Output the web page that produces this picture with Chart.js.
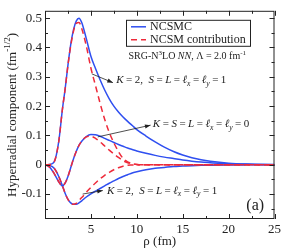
<!DOCTYPE html>
<html>
<head>
<meta charset="utf-8">
<script src="https://cdn.jsdelivr.net/npm/chart.js@4"></script>
<style>
  body { margin: 0; background: #fff; }
  canvas { display: block; }
</style>
</head>
<body>
<canvas id="chart" width="284" height="249"></canvas>
<script>
// hyperradius grid (fm)
const rho = [0, 0.5, 1, 1.5, 1.9, 2.2, 2.5, 2.8, 3.1, 3.4, 3.7, 4, 4.5, 5, 5.5, 6, 6.5, 7, 7.5,
    8, 8.5, 9, 9.5, 10, 11, 12, 13, 14, 15, 16, 17, 18, 20, 22, 25];

// K=2, S=L=lx=ly=1 (upper)
const ncsmcK2a = [0, 0.001, 0.01, 0.08, 0.19, 0.26, 0.34, 0.41, 0.46, 0.49, 0.5, 0.485, 0.43, 0.37,
    0.328, 0.29, 0.255, 0.225, 0.2, 0.18, 0.163, 0.148, 0.134, 0.12, 0.098, 0.078, 0.06, 0.045,
    0.033, 0.024, 0.017, 0.012, 0.0055, 0.0025, 0.0005];
const ncsmK2a = [0, 0.001, 0.01, 0.08, 0.19, 0.26, 0.34, 0.405, 0.455, 0.482, 0.485, 0.465, 0.405,
    0.33, 0.27, 0.21, 0.155, 0.11, 0.075, 0.045, 0.022, 0.01, 0.004, 0.001, 0, 0, 0, 0, 0, 0, 0, 0,
    0, 0, 0];

// K=S=L=lx=ly=0
const ncsmcK0 = [0, -0.008, -0.03, -0.058, -0.072, -0.062, -0.04, -0.01, 0.02, 0.045, 0.066, 0.08,
    0.096, 0.103, 0.102, 0.097, 0.09, 0.083, 0.076, 0.069, 0.063, 0.057, 0.052, 0.047, 0.039,
    0.032, 0.026, 0.021, 0.016, 0.012, 0.009, 0.007, 0.0035, 0.0015, 0.0003];
const ncsmK0 = [0, -0.008, -0.03, -0.058, -0.072, -0.062, -0.04, -0.01, 0.02, 0.045, 0.066, 0.08,
    0.095, 0.097, 0.09, 0.078, 0.064, 0.05, 0.037, 0.025, 0.014, 0.007, 0.003, 0.001, 0, 0, 0, 0,
    0, 0, 0, 0, 0, 0, 0];

// K=2, S=L=lx=ly=1 (lower)
const ncsmcK2b = [0, -0.002, -0.012, -0.04, -0.072, -0.098, -0.118, -0.13, -0.135, -0.135, -0.13,
    -0.123, -0.11, -0.099, -0.09, -0.081, -0.072, -0.063, -0.055, -0.047, -0.04, -0.034, -0.028,
    -0.024, -0.017, -0.012, -0.009, -0.006, -0.0045, -0.003, -0.002, -0.0015, -0.0008, -0.0004, 0];
const ncsmK2b = [0, -0.002, -0.012, -0.04, -0.072, -0.098, -0.118, -0.13, -0.135, -0.132, -0.122,
    -0.112, -0.094, -0.077, -0.062, -0.048, -0.036, -0.026, -0.017, -0.01, -0.005, -0.002, -0.001,
    0, 0, 0, 0, 0, 0, 0, 0, 0, 0, 0, 0];

const xTicks = [5, 10, 15, 20, 25];
const yTicks = [-0.1, 0, 0.1, 0.2, 0.3, 0.4, 0.5];
const xMinor = [2.5, 7.5, 12.5, 17.5, 22.5];
const yMinor = [-0.15, -0.05, 0.05, 0.15, 0.25, 0.35, 0.45];

const BLUE = '#2f4ff0';
const RED = '#ee2a3a';
const SERIF = '"Liberation Serif", "Times New Roman", serif';

function pts(ys) {
    return rho.map((r, i) => ({ x: r, y: ys[i] }));
}

function series(label, ys, color, dashed) {
    return {
        label: label,
        data: pts(ys),
        borderColor: color,
        borderWidth: 1.5,
        borderDash: dashed ? [6, 4] : [],
        pointRadius: 0,
        fill: false,
        cubicInterpolationMode: 'monotone',
    };
}

const it = t => ({ t: t, i: true });
const tx = t => ({ t: t });
const sb = t => ({ t: t, i: true, s: 'sub' });
const sp = t => ({ t: t, s: 'sup' });

const labelK2 = [it('K'), tx('='), tx('2,'), tx('  '), it('S'), tx('='), it('L'), tx('='),
    it('ℓ'), sb('x'), tx('='), it('ℓ'), sb('y'), tx('='), tx('1')];
const labelK0 = [it('K'), tx('='), it('S'), tx('='), it('L'), tx('='), it('ℓ'), sb('x'), tx('='),
    it('ℓ'), sb('y'), tx('='), tx('0')];
const labelSrg = [tx('SRG-N'), sp('3'), tx('LO '), it('NN'), tx(', Λ = 2.0 fm'), sp('-1')];
const labelY = [tx('Hyperradial component (fm'), sp('-1/2'), tx(')')];

function richText(ctx, x, y, parts, size, measureOnly) {
    let start = x;
    for (const p of parts) {
        const fs = p.s ? size * 0.7 : size;
        ctx.font = (p.i ? 'italic ' : '') + fs + 'px ' + SERIF;
        const dy = p.s === 'sub' ? size * 0.28 : p.s === 'sup' ? -size * 0.4 : 0;
        const pad = (p.t === '=' && p.i === undefined && parts !== labelSrg) ? 2.5 : 0;
        x += pad;
        if (!measureOnly) ctx.fillText(p.t, x, y + dy);
        x += ctx.measureText(p.t).width + pad;
    }
    return x - start;
}

function arrow(ctx, x1, y1, x2, y2) {
    const a = Math.atan2(y2 - y1, x2 - x1);
    ctx.beginPath();
    ctx.moveTo(x1, y1);
    ctx.lineTo(x2, y2);
    ctx.stroke();
    ctx.beginPath();
    ctx.moveTo(x2, y2);
    ctx.lineTo(x2 - 6 * Math.cos(a - 0.35), y2 - 6 * Math.sin(a - 0.35));
    ctx.lineTo(x2 - 6 * Math.cos(a + 0.35), y2 - 6 * Math.sin(a + 0.35));
    ctx.closePath();
    ctx.fill();
}

const decorations = {
    id: 'decorations',
    afterDraw(chart) {
        const ctx = chart.ctx;
        const a = chart.chartArea;
        const xs = chart.scales.x;
        const ys = chart.scales.y;
        const px = v => xs.getPixelForValue(v);
        const py = v => ys.getPixelForValue(v);
        ctx.save();
        ctx.strokeStyle = '#222';
        ctx.fillStyle = '#222';
        ctx.lineWidth = 1;

        // frame
        ctx.strokeRect(a.left + 0.5, a.top + 0.5, a.right - a.left - 1, a.bottom - a.top - 1);

        // inward ticks on all four sides
        ctx.beginPath();
        const tickX = (v, len) => {
            const x = Math.round(px(v)) + 0.5;
            ctx.moveTo(x, a.bottom); ctx.lineTo(x, a.bottom - len);
            ctx.moveTo(x, a.top); ctx.lineTo(x, a.top + len);
        };
        const tickY = (v, len) => {
            const y = Math.round(py(v)) + 0.5;
            ctx.moveTo(a.left, y); ctx.lineTo(a.left + len, y);
            ctx.moveTo(a.right, y); ctx.lineTo(a.right - len, y);
        };
        xTicks.forEach(v => tickX(v, 5));
        xMinor.forEach(v => tickX(v, 3));
        yTicks.forEach(v => tickY(v, 5));
        yMinor.forEach(v => tickY(v, 3));
        ctx.stroke();

        // legend
        const lx = a.left + 81, ly = a.top + 9;
        ctx.strokeRect(lx + 0.5, ly + 0.5, 124, 26);
        ctx.lineWidth = 1.5;
        ctx.strokeStyle = BLUE;
        ctx.beginPath(); ctx.moveTo(lx + 5, ly + 7); ctx.lineTo(lx + 20, ly + 7); ctx.stroke();
        ctx.strokeStyle = RED;
        ctx.setLineDash([6, 4]);
        ctx.beginPath(); ctx.moveTo(lx + 5, ly + 20); ctx.lineTo(lx + 20, ly + 20); ctx.stroke();
        ctx.setLineDash([]);
        ctx.font = '12px ' + SERIF;
        ctx.textBaseline = 'middle';
        ctx.fillText('NCSMC', lx + 24, ly + 7.5);
        ctx.fillText('NCSM contribution', lx + 24, ly + 20.5);

        // annotations
        ctx.strokeStyle = '#222';
        ctx.lineWidth = 0.8;
        arrow(ctx, px(5.1), py(0.31), px(7.4), py(0.28));
        arrow(ctx, px(5.75), py(0.095), px(11.5), py(0.135));
        arrow(ctx, px(4.1), py(-0.1), px(6.3), py(-0.088));

        ctx.textBaseline = 'middle';
        richText(ctx, px(7.75), py(0.287), labelK2, 11);
        richText(ctx, px(11.75), py(0.137), labelK0, 11);
        richText(ctx, px(6.75), py(-0.09), labelK2, 11);
        richText(ctx, px(9.1), py(0.368), labelSrg, 10);

        ctx.font = '16px ' + SERIF;
        ctx.textAlign = 'center';
        ctx.fillText('(a)', px(22.9), py(-0.14));
        ctx.textAlign = 'left';

        // y axis title
        ctx.translate(13, (a.top + a.bottom) / 2);
        ctx.rotate(-Math.PI / 2);
        const w = richText(ctx, 0, 0, labelY, 13, true);
        richText(ctx, -w / 2, 0, labelY, 13);
        ctx.restore();
    }
};

new Chart(document.getElementById('chart'), {
    type: 'line',
    data: {
        datasets: [
            series('NCSM contribution', ncsmK2a, RED, true),
            series('NCSM contribution', ncsmK0, RED, true),
            series('NCSM contribution', ncsmK2b, RED, true),
            series('NCSMC', ncsmcK2a, BLUE, false),
            series('NCSMC', ncsmcK0, BLUE, false),
            series('NCSMC', ncsmcK2b, BLUE, false),
        ],
    },
    options: {
        responsive: false,
        animation: false,
        layout: { padding: { top: 1, right: 9, left: 0, bottom: 0 } },
        plugins: {
            legend: { display: false },
            tooltip: { enabled: false },
        },
        scales: {
            x: {
                type: 'linear',
                min: 0,
                max: 25,
                grid: { display: false, drawTicks: false },
                border: { display: false },
                afterBuildTicks: s => { s.ticks = xTicks.map(v => ({ value: v })); },
                afterFit: s => { s.height = 30; },
                ticks: {
                    color: '#222',
                    font: { family: SERIF, size: 13 },
                    padding: 3,
                    maxRotation: 0,
                    autoSkip: false,
                },
                title: {
                    display: true,
                    text: 'ρ (fm)',
                    color: '#222',
                    font: { family: SERIF, size: 13 },
                    padding: { top: 0, bottom: 0 },
                },
            },
            y: {
                min: -0.185,
                max: 0.525,
                grid: { display: false, drawTicks: false },
                border: { display: false },
                afterBuildTicks: s => { s.ticks = yTicks.map(v => ({ value: v })); },
                afterFit: s => { s.width = 45; },
                ticks: {
                    color: '#222',
                    font: { family: SERIF, size: 13 },
                    padding: 3,
                    callback: v => (Math.abs(v) < 1e-9 ? '0' : v.toFixed(1)),
                },
            },
        },
    },
    plugins: [decorations],
});
</script>
</body>
</html>
